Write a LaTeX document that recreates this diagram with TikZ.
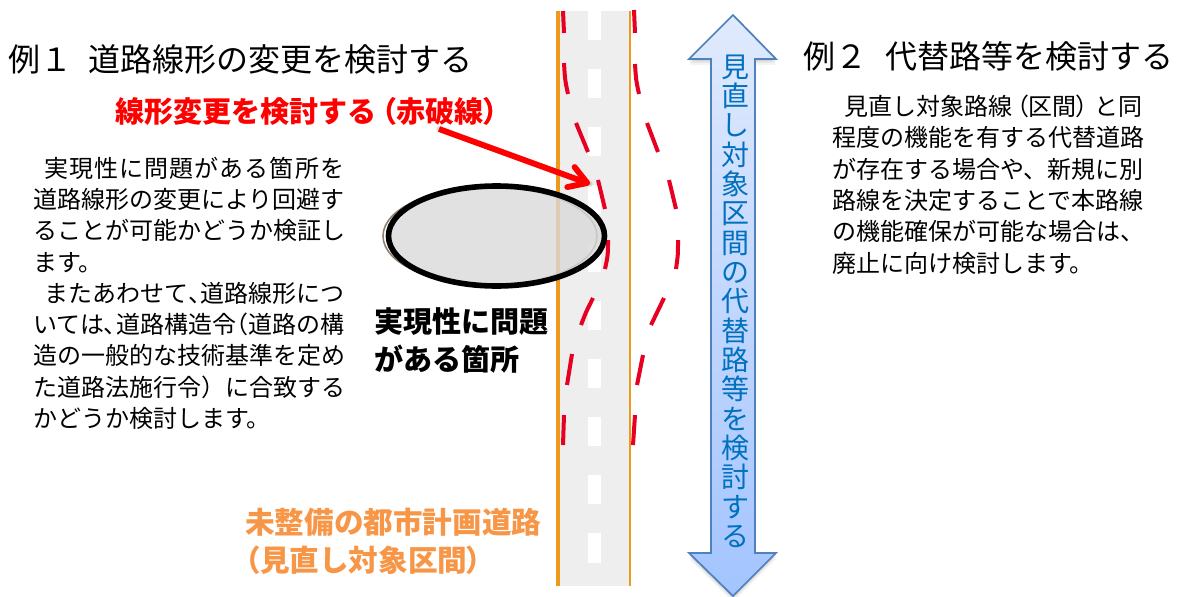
\documentclass[tikz,border=0pt]{standalone}
\usepackage{fontspec}
\setmainfont{Noto Sans CJK JP}
\newfontfamily\prop{Noto Sans CJK JP}[RawFeature=+palt]
\newcommand{\pp}[1]{{\prop #1}}
\usetikzlibrary{arrows.meta}
\definecolor{roadgray}{HTML}{EEEEEE}
\definecolor{edgeorange}{HTML}{EB9A1E}
\definecolor{dashred}{HTML}{E60021}
\definecolor{pureRed}{HTML}{FF0000}
\definecolor{labelorange}{HTML}{F79646}
\definecolor{arrowblue}{HTML}{4F81BD}
\definecolor{arrowtop}{HTML}{E0EAFD}
\definecolor{arrowbottom}{HTML}{A3C4FF}
\definecolor{arrowtext}{HTML}{0070C0}
\tikzset{
  bodyline/.style={anchor=base west,inner sep=0pt,font=\fontsize{18pt}{18pt}\selectfont,text=black},
  titleline/.style={anchor=base west,inner sep=0pt,font=\fontsize{24pt}{24pt}\selectfont,text=black},
  boldline/.style={anchor=base west,inner sep=0pt,font=\fontsize{21.8pt}{22pt}\selectfont\bfseries},
  orangeline/.style={anchor=base west,inner sep=0pt,font=\fontsize{22.2pt}{23pt}\selectfont\bfseries,text=labelorange},
  redseg/.style={draw=dashred,line width=3pt,line cap=butt},
  roaddash/.style={fill=white,draw=none},
}
\begin{document}
\begin{tikzpicture}[x=0.75pt,y=-0.75pt]
\useasboundingbox (0,0) rectangle (1180,596);
% road
\fill[roadgray] (558,11) rectangle (630,586);
\foreach \t/\b in {11/40,69/98,127/156,185/214,243/272,301/330,359/388,417/446,475/504,533/563}
  \fill[roaddash] (588,\t) rectangle (601,\b);
\draw[edgeorange,line width=2.4pt] (558,11) -- (558,586);
\draw[edgeorange,line width=2.1pt] (630,11) -- (630,586);
% red dashed alignments
\foreach \a/\c/\b in {
  {563,11}/{563.5,22}/{564,33},{564,63}/{565,80}/{568,94},{576,123}/{582,138}/{588,152},
  {598,180}/{602,195}/{605,209},{608,240}/{608,255}/{605,269},{593,298}/{586,312}/{581,325},
  {572,354}/{569,370}/{567,385},{564,415}/{563.5,430}/{563,445},
  {634,10}/{634.5,22}/{635,33},{635,64}/{636,80}/{639,94},{647,123}/{653,138}/{658,152},
  {669,180}/{673,195}/{676,209},{678,240}/{678,255}/{676,269},{664,298}/{657,312}/{651,325},
  {643,355}/{640,370}/{637,385},{635,415}/{634,430}/{633,445}}
  \draw[redseg] (\a) .. controls (\c) .. (\b);
% ellipse
\draw[draw=gray!75!brown,line width=1.2pt] (490,236) ellipse [x radius=107,y radius=49];
\fill[gray!30,opacity=.8] (496,236) ellipse [x radius=108,y radius=50];
\draw[black,line width=4.2pt] (496.5,236) ellipse [x radius=108,y radius=50];
% double arrow
\foreach \o/\p in {2/.08,4/.06,6/.04}
  \fill[black,opacity=\p,yshift=-\o*0.75pt] (733,15) -- (776,59) -- (755,59) -- (755,553) -- (776,553) -- (733,596) -- (689,553) -- (711,553) -- (711,59) -- (689,59) -- cycle;
\draw[draw=arrowblue,line width=1.3pt,top color=arrowtop,bottom color=arrowbottom,line join=miter]
  (733,15) -- (776,59) -- (755,59) -- (755,553) -- (776,553) -- (733,596) -- (689,553) -- (711,553) -- (711,59) -- (689,59) -- cycle;
\node[inner sep=0pt,align=center,text=arrowtext,font=\fontsize{21pt}{22pt}\selectfont] (arrowlabel) at (735,301)
 {見\\直\\し\\対\\象\\区\\間\\の\\代\\替\\路\\等\\を\\検\\討\\す\\る};
% titles
\node[titleline] (title1) at (8,71) {例１\hspace{12pt}道路線形の変更を検討する};
\node[titleline] (title2) at (803,68) {例２\hspace{13.5pt}代替路等を検討する};
% red label and arrow
\node[boldline,text=pureRed] (redlabel) at (115,122) {線形変更を検討する\hspace{4pt}\pp{（}赤破線\pp{）}};
\coordinate (rs) at (439,129);
\coordinate (rt) at (590,184);
\draw[black!30,opacity=.5,line width=4pt,line cap=round,yshift=-3*0.75pt] (rs) -- (rt);
\draw[pureRed,line width=4.4pt,-{Straight Barb[length=13pt,width=16pt,line cap=round,line join=round]}] (rs) -- (rt);
% left body
\node[bodyline] (l1) at (44,177) {\addfontfeature{LetterSpace=4.5}実現性に問題がある箇所を};
\node[bodyline] (l2) at (33,208.5) {道路線形の変更により回避す};
\node[bodyline] (l3) at (33,239.5) {ることが可能かどうか検証し};
\node[bodyline] (l4) at (33,271) {ます。};
\node[bodyline] (l5) at (44,302) {またあわせて\pp{、}道路線形につ};
\node[bodyline] (l6) at (33,333.5) {いては\pp{、}道路構造令\pp{（}道路の構};
\node[bodyline] (l7) at (33,364.5) {造の一般的な技術基準を定め};
\node[bodyline] (l8) at (33,396) {た道路法施行令）に合致する};
\node[bodyline] (l9) at (33,427) {かどうか検討します。};
% right body
\node[bodyline] (r1) at (844,115) {見直し対象路線\hspace{3pt}\pp{（}区間\pp{）}\hspace{5pt}と同};
\node[bodyline] (r2) at (832,146.5) {程度の機能を有する代替道路};
\node[bodyline] (r3) at (832,178) {が存在する場合や、新規に別};
\node[bodyline] (r4) at (832,209) {路線を決定することで本路線};
\node[bodyline] (r5) at (832,240.5) {の機能確保が可能な場合は、};
\node[bodyline] (r6) at (832,272) {廃止に向け検討します。};
% callouts
\node[boldline,text=black] (c1) at (374,332) {実現性に問題};
\node[boldline,text=black] (c2) at (374,370) {がある箇所};
\node[orangeline] (o1) at (245,533) {未整備の都市計画道路};
\node[orangeline] (o2) at (245,571) {\pp{（}見直し対象区間\pp{）}};
\end{tikzpicture}
\end{document}
